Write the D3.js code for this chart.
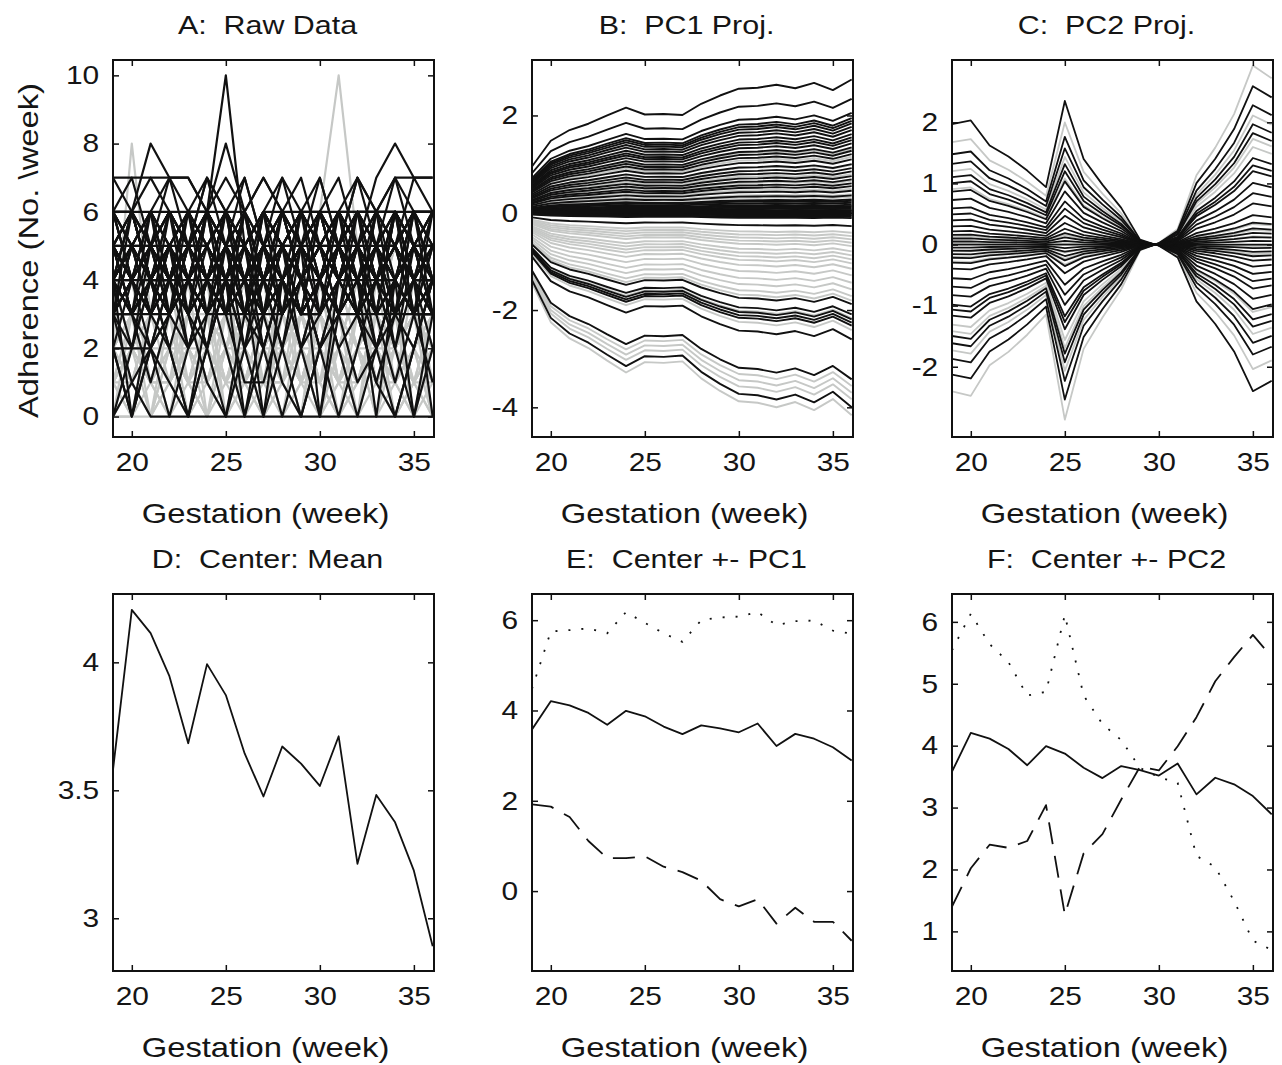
<!DOCTYPE html>
<html>
<head>
	<meta charset="utf-8">
	<title>Adherence: raw data and principal components</title>
	<style>
		body {
			margin: 0;
			background: #fff;
		}
		svg {
			display: block;
		}
		.box {
			fill: none;
			stroke: #111;
			stroke-width: 2;
		}
		.tick line {
			stroke: #111;
			stroke-width: 1.5;
		}
		text {
			font-family: "Liberation Sans", Arial, Helvetica, sans-serif;
			fill: #151515;
			white-space: pre;
		}
		.curve {
			fill: none;
			stroke-linejoin: round;
		}
	</style>
</head>
<body>
	<div id="chart"></div>

	<script src="https://cdnjs.cloudflare.com/ajax/libs/d3/7.8.5/d3.min.js"></script>
	<script>
	// Gestation week, shared by all six panels
	var weeks  = [19, 20, 21, 22, 23, 24, 25, 26, 27, 28, 29, 30, 31, 32, 33, 34, 35, 36]
	var xTicks = [20, 25, 30, 35]

	// A: raw weekly adherence counts, one row per subject
	var rawBlack = [
		[7,7,7,7,7,6,5,6,7,6,5,6,5,6,6,7,7,7],
		[6,6,6,6,6,6,6,5,6,5,6,6,6,6,6,6,6,6],
		[4,5,4,5,4,6,10,5,6,5,4,5,4,5,6,5,4,5],
		[5,6,8,7,7,6,5,6,4,5,6,5,5,4,5,6,5,5],
		[3,4,5,6,5,6,8,6,5,4,5,6,4,5,4,5,6,5],
		[5,4,5,4,5,4,5,4,6,5,4,5,6,5,7,8,7,7],
		[3,1,0,0,0,0,0,0,0,0,0,0,0,0,0,0,0,0],
		[2,2,2,3,4,5,4,3,4,5,4,3,4,5,4,3,3,3],
		[6,7,5,7,5,7,5,7,5,7,5,7,5,7,5,7,5,6],
		[5,6,7,6,5,6,7,6,7,6,7,5,6,7,6,5,7,6],
		[4,5,6,7,6,7,6,5,6,7,6,7,5,7,6,6,5,5],
		[5,4,5,6,5,7,6,7,5,6,5,6,7,5,6,7,6,6],
		[4,5,4,5,6,5,4,5,4,5,4,5,6,5,4,5,4,5],
		[5,4,5,4,5,4,5,4,5,4,5,4,5,4,5,4,5,4],
		[3,4,5,4,3,4,5,4,3,4,5,4,3,4,5,4,3,4],
		[4,3,4,5,4,3,4,5,4,3,4,5,4,3,4,5,4,3],
		[5,5,4,4,5,5,4,4,5,5,4,4,5,5,4,4,5,5],
		[6,5,5,6,5,5,6,5,6,5,5,6,5,6,5,6,5,6],
		[3,3,4,4,3,4,4,3,4,4,3,4,3,3,4,4,3,3],
		[4,6,5,4,6,5,4,6,5,4,6,5,4,6,5,4,6,5],
		[5,3,4,5,3,4,5,3,4,5,3,4,5,3,4,5,3,4],
		[6,4,6,4,5,5,6,4,5,6,4,5,6,4,5,5,4,6],
		[3,5,3,5,4,3,5,4,5,3,4,5,3,4,5,3,4,3],
		[4,4,6,5,3,5,6,4,4,5,5,3,4,6,4,5,4,4],
		[4,0,3,4,5,4,5,4,5,4,3,4,5,4,3,4,5,4],
		[5,4,3,2,0,3,5,4,5,4,3,4,5,4,5,3,4,5],
		[4,5,4,5,3,2,4,0,3,5,4,5,4,3,4,5,4,4],
		[3,4,5,4,5,4,3,4,0,4,5,4,5,4,3,4,5,3],
		[5,4,5,3,4,5,4,5,3,4,5,0,4,5,4,5,4,3],
		[4,3,4,5,4,3,5,4,5,4,3,4,5,4,0,4,5,4],
		[5,4,3,4,5,4,3,4,5,4,5,4,3,4,5,4,0,3],
		[4,5,4,3,4,5,4,3,2,4,5,4,3,4,5,3,4,0],
		[0,1,2,3,2,4,3,1,1,3,4,2,3,1,2,3,2,4],
		[3,3,4,2,4,3,5,2,3,4,2,3,5,3,2,4,3,3],
		[5,6,4,3,5,6,4,6,3,5,6,4,6,5,3,6,4,5],
		[6,5,3,5,6,4,6,5,6,4,5,6,5,3,6,5,6,4],
		[4,2,5,3,4,6,3,5,4,2,5,4,3,5,4,6,3,4],
		[5,5,6,3,5,4,3,6,4,5,3,6,4,5,6,3,5,3],
		[6,6,5,6,4,6,5,3,6,5,6,3,5,6,4,5,6,6],
		[3,4,3,4,2,4,3,5,2,4,3,4,2,3,5,2,4,3],
		[7,6,4,5,6,5,6,5,4,6,5,6,4,6,5,6,5,4],
		[4,3,2,1,0,2,4,5,3,1,0,2,4,3,1,0,2,4],
		[2,0,2,4,3,1,0,3,5,4,2,0,3,5,3,1,3,1],
		[4,6,4,6,3,6,4,5,6,3,5,4,6,5,3,6,5,4],
		[3,5,6,4,5,3,6,5,4,6,4,3,5,6,4,5,6,3],
		[5,3,6,4,6,5,3,4,6,5,3,6,4,5,3,4,6,5],
		[6,4,3,6,5,4,6,3,5,6,4,5,3,6,5,4,3,6],
		[4,5,6,5,3,6,5,4,3,5,6,5,4,3,6,4,5,4],
		[3,6,4,3,6,4,3,6,4,5,4,6,5,4,3,6,4,5],
		[5,4,6,5,4,6,5,3,5,3,6,4,6,3,5,5,3,5],
		[4,3,5,6,4,5,4,6,3,4,5,3,6,5,4,3,6,4],
		[6,5,4,3,4,5,6,5,4,3,4,5,6,5,4,3,4,5],
		[3,4,4,5,5,6,5,5,4,4,3,3,4,4,5,5,6,6],
		[5,6,5,4,4,3,3,4,5,6,6,5,4,3,3,4,5,6],
		[4,4,5,5,6,6,5,4,3,3,4,5,5,6,6,5,4,4],
		[2,4,5,3,4,2,5,4,3,5,2,4,5,3,4,2,5,3],
		[3,2,4,5,2,3,4,2,5,3,4,2,3,5,2,4,3,5],
		[6,6,4,4,6,6,3,3,6,6,4,4,6,6,3,3,6,6],
		[4,5,3,3,5,4,6,6,4,5,3,3,5,4,6,6,4,5],
		[5,3,3,5,4,4,6,3,3,6,5,5,3,4,4,6,3,3],
		[3,5,5,4,6,3,4,4,5,3,6,6,4,5,5,3,4,6],
		[6,4,2,0,2,4,6,4,2,0,2,4,6,4,2,0,2,4],
		[2,0,2,4,6,4,2,0,2,4,6,4,2,0,2,4,6,4],
		[4,6,4,2,0,2,4,6,4,2,0,2,4,6,4,2,0,2],
		[0,2,4,6,4,2,0,2,4,6,4,2,0,2,4,6,4,2],
		[5,3,1,3,5,6,4,2,0,2,4,6,5,3,1,3,5,6]
	]
	var rawGray = [
		[2,8,3,2,1,2,3,1,2,3,2,1,2,3,1,2,3,2],
		[2,3,2,1,2,3,2,3,2,3,4,6,10,5,3,2,3,2],
		[0,0,0,1,2,1,0,1,2,3,2,1,0,1,2,1,0,1],
		[1,2,3,2,1,0,1,2,3,2,1,2,3,2,1,0,1,2],
		[2,1,2,3,2,1,2,1,0,1,2,3,2,1,2,3,2,1],
		[3,2,1,2,3,2,1,0,1,2,3,2,1,2,1,2,3,2],
		[1,3,2,1,0,2,3,2,1,3,2,0,1,3,2,1,2,3],
		[2,2,3,3,2,2,1,3,2,2,3,1,3,2,2,3,1,2],
		[4,3,2,3,4,3,2,3,4,2,3,4,2,3,4,3,2,4],
		[0,2,1,3,2,3,1,2,3,1,0,2,1,3,2,1,3,1],
		[3,1,0,1,3,2,4,1,2,0,3,1,2,4,1,3,0,2],
		[1,0,2,1,2,4,2,3,1,2,1,3,0,2,3,2,1,0],
		[5,4,3,4,5,3,4,3,4,5,3,4,5,4,3,5,4,3],
		[6,5,4,5,6,5,4,6,5,4,5,6,5,4,6,5,4,6],
		[2,3,4,3,2,3,4,3,2,3,4,3,2,3,4,3,2,3],
		[1,1,2,2,1,1,2,2,1,1,2,2,1,1,2,2,1,1],
		[0,1,0,2,1,0,2,1,0,2,1,0,1,2,0,1,2,0],
		[3,4,3,2,1,2,3,4,3,2,1,2,3,4,3,2,1,2],
		[2,1,3,4,2,1,3,2,4,1,2,3,1,2,4,2,3,1],
		[4,2,1,2,3,1,2,3,1,2,4,2,3,1,2,3,4,2],
		[1,2,0,3,2,3,0,2,1,3,2,0,3,1,3,0,2,3],
		[0,0,1,1,0,1,3,2,0,1,2,1,0,2,1,0,1,0],
		[5,6,7,6,5,4,5,6,5,4,3,4,5,6,5,4,5,6],
		[3,3,2,1,2,3,3,2,1,2,3,3,2,1,2,3,3,2],
		[1,2,1,0,3,2,1,3,2,1,0,3,2,1,3,1,0,2],
		[3,1,2,4,1,3,2,0,3,1,4,2,0,3,1,2,4,1],
		[2,4,1,3,0,2,4,1,3,2,0,4,1,3,2,4,0,3],
		[0,3,2,1,4,0,3,2,1,4,2,1,3,0,4,1,2,4],
		[4,2,3,1,2,4,0,3,2,4,1,3,2,4,0,2,3,1],
		[1,0,3,2,2,1,3,0,2,1,3,2,1,0,3,2,1,3],
		[3,3,1,1,3,3,1,1,3,3,1,1,3,3,1,1,3,3],
		[2,0,2,0,2,0,2,0,2,0,2,0,2,0,2,0,2,0],
		[6,6,5,6,4,5,6,5,4,6,5,4,5,6,5,6,6,6],
		[4,3,4,2,3,4,3,2,4,3,4,2,3,4,3,2,4,3],
		[5,3,1,0,1,3,5,3,1,0,1,3,5,3,1,0,1,3],
		[0,1,3,5,3,1,0,1,3,5,3,1,0,1,3,5,3,1],
		[1,2,2,4,3,2,4,3,1,1,3,2,4,3,2,4,3,2],
		[2,3,1,3,4,2,1,3,4,2,1,3,2,4,1,2,3,1],
		[2,2,2,3,1,3,2,4,3,2,1,3,4,2,3,1,2,3],
		[0,1,3,2,1,0,2,4,2,0,1,3,2,0,1,2,3,0],
		[2,3,4,2,3,1,2,4,1,3,2,4,1,3,2,1,4,2],
		[1,3,0,2,4,3,1,2,0,3,2,1,4,2,0,3,1,2]
	]

	// B: PC1 projection; curve of the top subject, other subjects as multiples of it
	var pc1Curve       = [0.95,1.48,1.70,1.83,2.00,2.16,2.02,2.03,2.01,2.24,2.41,2.55,2.57,2.63,2.56,2.67,2.52,2.74]
	var pc1ScoresBlack = [1.0,0.855,0.75,0.71,0.69,0.67,0.645,0.62,0.59,0.565,0.545,0.52,0.49,0.465,0.44,0.40,0.365,0.335,0.31,0.275,0.25,0.22,0.20,0.165,0.13,0.10,0.09,0.075,0.06,0.05,0.04,0.03,0.02,0.015,0.01,0.0,-0.005,-0.015,-0.02,-0.03,-0.04,-0.1,-0.686,-0.763,-0.80,-0.825,-0.847,-0.95,-1.25,-1.46]
	var pc1ScoresGray  = [0.48,0.42,0.36,0.29,0.24,0.18,0.14,0.12,0.085,-0.15,-0.175,-0.20,-0.225,-0.25,-0.29,-0.32,-0.35,-0.38,-0.42,-0.47,-0.525,-0.575,-0.625,-0.66,-0.79,-0.88,-1.30,-1.35,-1.40,-1.52]

	// C: PC2 projection, same idea
	var pc2Curve       = [1.97,2.03,1.62,1.44,1.21,0.94,2.35,1.40,0.98,0.60,0.08,-0.02,-0.21,-0.93,-1.30,-1.75,-2.40,-2.23]
	var pc2ScoresBlack = [1.0,0.75,0.67,0.56,0.51,0.44,0.37,0.3,0.25,0.2,0.15,0.11,0.08,0.05,0.025,0.0,-0.025,-0.05,-0.08,-0.11,-0.15,-0.2,-0.28,-0.35,-0.42,-0.5,-0.54,-0.59,-0.76,-0.82,-0.95,-1.08]
	var pc2ScoresGray  = [0.85,0.61,0.46,0.2,0.066,0.01,-0.056,-0.1,-0.14,-0.665,-0.72,-0.88,-1.22]

	// D-F: mean curve and mean +- principal components
	var meanCurve = [3.58,4.205,4.114,3.946,3.684,3.993,3.872,3.644,3.476,3.671,3.604,3.517,3.711,3.213,3.482,3.375,3.186,2.891]
	var plusPC1   = [4.48,5.75,5.78,5.82,5.71,6.18,5.94,5.71,5.52,6.00,6.06,6.08,6.18,5.89,5.98,5.99,5.77,5.70]
	var minusPC1  = [1.92,1.87,1.64,1.11,0.73,0.73,0.77,0.54,0.42,0.23,-0.18,-0.34,-0.18,-0.72,-0.37,-0.68,-0.68,-1.10]
	var plusPC2   = [5.54,6.13,5.64,5.35,4.81,4.87,6.11,4.81,4.35,4.09,3.64,3.49,3.40,2.22,2.04,1.49,0.85,0.70]
	var minusPC2  = [1.40,2.02,2.40,2.35,2.46,3.04,1.27,2.26,2.57,3.13,3.66,3.60,3.99,4.46,5.04,5.43,5.79,5.43]

	// Settings
	var width   = 1282,
		height  = 1065,
		boxW    = 321,
		boxH    = 377,
		colX    = [113, 532, 952],
		rowY    = [60, 594],
		black   = "#111",
		gray    = "#c6c8c6",
		stretch = 1.15 // the original lettering is wide

	var svg = d3.select("#chart").append("svg")
		.attr("width", width)
		.attr("height", height)

	// Horizontally stretched text, anchored at (x, y)
	var label = function(g, x, y, str, size, sx, rotate){
		return g.append("text")
			.attr("text-anchor", "middle")
			.attr("dy", "0.35em")
			.attr("xml:space", "preserve")
			.style("font-size", size + "px")
			.attr("transform", "translate(" + x + "," + y + ")" + (rotate ? " rotate(-90)" : "") + " scale(" + sx + ",1)")
			.text(str)
	}

	var drawSeries = function(g, x, y, rows, colour, lineWidth, dash){
		var line = d3.line()
			.x(function(d, i){ return x(weeks[i]) })
			.y(function(d){ return y(d) })
		rows.forEach(function(row){
			g.append("path")
				.attr("class", "curve")
				.attr("d", line(row))
				.attr("stroke", colour)
				.attr("stroke-width", lineWidth)
				.attr("stroke-dasharray", dash || null)
		})
	}

	var projected = function(curve, scores){
		return scores.map(function(s){
			return curve.map(function(v){ return v * s })
		})
	}

	var panels = [
		{ col: 0, row: 0, title: "A:  Raw Data", yDomain: [-0.6, 10.45], yTicks: [0, 2, 4, 6, 8, 10],
		  ylabel: "Adherence (No. \\week)",
		  draw: function(g, x, y){
			drawSeries(g, x, y, rawGray, gray, 2.2)
			drawSeries(g, x, y, rawBlack, black, 2.2)
		  } },
		{ col: 1, row: 0, title: "B:  PC1 Proj.", yDomain: [-4.61, 3.14], yTicks: [-4, -2, 0, 2],
		  draw: function(g, x, y){
			drawSeries(g, x, y, projected(pc1Curve, pc1ScoresGray), gray, 1.9)
			drawSeries(g, x, y, projected(pc1Curve, pc1ScoresBlack), black, 1.9)
		  } },
		{ col: 2, row: 0, title: "C:  PC2 Proj.", yDomain: [-3.15, 3.02], yTicks: [-2, -1, 0, 1, 2],
		  draw: function(g, x, y){
			drawSeries(g, x, y, projected(pc2Curve, pc2ScoresGray), gray, 1.8)
			drawSeries(g, x, y, projected(pc2Curve, pc2ScoresBlack), black, 1.8)
		  } },
		{ col: 0, row: 1, title: "D:  Center: Mean", yDomain: [2.794, 4.267], yTicks: [3, 3.5, 4],
		  draw: function(g, x, y){
			drawSeries(g, x, y, [meanCurve], black, 1.8)
		  } },
		{ col: 1, row: 1, title: "E:  Center +- PC1", yDomain: [-1.77, 6.58], yTicks: [0, 2, 4, 6],
		  draw: function(g, x, y){
			drawSeries(g, x, y, [meanCurve], black, 1.8)
			drawSeries(g, x, y, [plusPC1], black, 1.8, "2,11")
			drawSeries(g, x, y, [minusPC1], black, 1.8, "22,12")
		  } },
		{ col: 2, row: 1, title: "F:  Center +- PC2", yDomain: [0.36, 6.45], yTicks: [1, 2, 3, 4, 5, 6],
		  draw: function(g, x, y){
			drawSeries(g, x, y, [meanCurve], black, 1.8)
			drawSeries(g, x, y, [plusPC2], black, 1.8, "2,11")
			drawSeries(g, x, y, [minusPC2], black, 1.8, "22,12")
		  } }
	]

	panels.forEach(function(p, n){
		var left = colX[p.col],
			top  = rowY[p.row]

		var x = d3.scaleLinear().domain([19, 36.07]).range([0, boxW])
		var y = d3.scaleLinear().domain(p.yDomain).range([boxH, 0])

		var g = svg.append("g").attr("transform", "translate(" + left + "," + top + ")")

		// Clip the curves to the box
		g.append("clipPath").attr("id", "clip" + n)
			.append("rect").attr("width", boxW).attr("height", boxH)
		p.draw(g.append("g").attr("clip-path", "url(#clip" + n + ")"), x, y)

		// Ticks point inwards on all four sides
		var fmt = function(d){ return String(d) }
		g.append("g").attr("transform", "translate(0," + boxH + ")")
			.call(d3.axisBottom(x).tickValues(xTicks).tickSize(-6).tickPadding(16).tickFormat(fmt))
		g.append("g")
			.call(d3.axisTop(x).tickValues(xTicks).tickSize(-6).tickFormat(""))
		g.append("g")
			.call(d3.axisLeft(y).tickValues(p.yTicks).tickSize(-6).tickPadding(12).tickFormat(fmt))
		g.append("g").attr("transform", "translate(" + boxW + ",0)")
			.call(d3.axisRight(y).tickValues(p.yTicks).tickSize(-6).tickFormat(""))

		g.selectAll(".domain").remove()
		g.selectAll(".tick text")
			.attr("fill", "#151515")
			.style("font-size", "26px")
			.style("font-family", "'Liberation Sans', Arial, sans-serif")
			.attr("transform", "scale(" + stretch + ",1)")

		g.append("rect").attr("class", "box")
			.attr("width", boxW).attr("height", boxH)

		// Titles and axis labels
		label(g, boxW/2 - 6, -35, p.title, 26, 1.17)
		label(g, boxW/2 - 8, boxH + 76, "Gestation (week)", 28, 1.17)
		if(p.ylabel){
			label(g, 28 - left, boxH/2 + 2, p.ylabel, 28, 1.17, true)
		}
	})
	</script>
</body>
</html>
